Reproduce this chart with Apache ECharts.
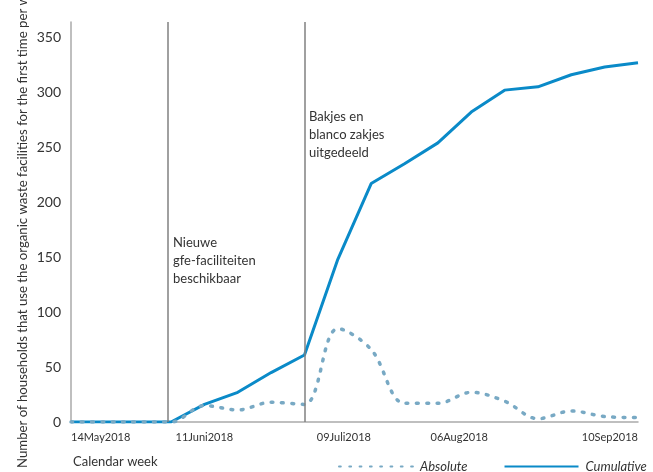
<!DOCTYPE html>
<html>
<head>
<meta charset="utf-8">
<script src="https://cdn.jsdelivr.net/npm/echarts@6/dist/echarts.min.js"></script>
<style>html,body{margin:0;padding:0;background:#fff}#c{width:653px;height:472px}</style>
</head>
<body>
<div id="c"></div>
<script>
const weeks = ['14May2018','21May2018','28May2018','04Jun2018','11Juni2018','18Jun2018','25Jun2018','02Jul2018','09Juli2018','16Jul2018','23Jul2018','30Jul2018','06Aug2018','13Aug2018','20Aug2018','27Aug2018','03Sep2018','10Sep2018'];
const shownWeekLabels = ['14May2018','11Juni2018','09Juli2018','06Aug2018','10Sep2018'];
const absoluteValues = [0,0,0,0,15,11,18,16,85,66,17,17,27,19,3,10,5,4];
const cumulativeValues = [0,0,0,0,16,27,45,61,148,217,235,254,282,302,305,316,323,327];
const eventWeeks = [2.91, 7];
const yTitle = 'Number of households that use the organic waste facilities for the first time per week';
const FONT = 'Lato';

const labelStyles = {
  n: {color: '#333', fontSize: 11, fontFamily: FONT},
  r: {color: '#333', fontSize: 11, fontFamily: FONT, padding: [0, 0, 0, 12]},
  l: {color: '#333', fontSize: 11, fontFamily: FONT, padding: [0, 24, 0, 0]}
};
const labelShift = {'09Juli2018': 'r', '06Aug2018': 'l'};

const chart = echarts.init(document.getElementById('c'));
chart.setOption({
  animation: false,
  textStyle: {fontFamily: FONT},
  grid: {left: 71, right: 15, top: 22, bottom: 50, containLabel: false},
  xAxis: {
    type: 'value', min: 0, max: weeks.length - 1, interval: 1,
    axisLine: {show: true, onZero: false, lineStyle: {color: '#aaaaaa', width: 1.5}},
    axisTick: {show: false},
    splitLine: {show: false},
    axisLabel: {
      color: '#333', fontSize: 11, fontFamily: FONT, margin: 10,
      alignMinLabel: 'left', alignMaxLabel: 'right',
      rich: labelStyles,
      formatter: v => {
        const w = weeks[Math.round(v)];
        if (!shownWeekLabels.includes(w)) return '';
        return '{' + (labelShift[w] || 'n') + '|' + w + '}';
      }
    }
  },
  yAxis: {
    type: 'value', min: 0, max: 364, interval: 50,
    axisLine: {show: true, lineStyle: {color: '#aaaaaa', width: 1.5}},
    axisTick: {show: false},
    splitLine: {show: false},
    axisLabel: {color: '#333', fontSize: 14, fontFamily: FONT, margin: 10, showMaxLabel: false, padding: [0,0,8,0]}
  },
  legend: {
    left: 333, top: 455, width: 330, itemWidth: 74, itemHeight: 10, itemGap: 36,
    itemStyle: {opacity: 0},
    textStyle: {color: '#333', fontSize: 13, fontStyle: 'italic', fontFamily: FONT, padding: [0,0,0,2]},
    data: ['Absolute', 'Cumulative']
  },
  series: [
    {
      name: 'Absolute', type: 'line', smooth: 0.35, symbol: 'none',
      data: absoluteValues.map((v, i) => [i, v]),
      lineStyle: {color: '#78a9c4', width: 3.5, type: [1.8, 8.5], cap: 'round'},
      itemStyle: {color: '#78a9c4'},
      z: 3
    },
    {
      name: 'Cumulative', type: 'line', symbol: 'none',
      data: cumulativeValues.map((v, i) => [i, v]),
      lineStyle: {color: '#0a8ac8', width: 3},
      itemStyle: {color: '#0a8ac8'},
      z: 2,
      markLine: {
        silent: true, symbol: 'none', label: {show: false},
        lineStyle: {color: '#808080', width: 1.5, type: 'solid'},
        data: eventWeeks.map(w => [{coord: [w, 0]}, {coord: [w, 364]}])
      }
    }
  ],
  graphic: [
    {type: 'text', x: 23, y: 468, rotation: Math.PI / 2,
     style: {text: yTitle, fill: '#333', font: '13.2px ' + FONT, textAlign: 'left', textVerticalAlign: 'middle'}},
    {type: 'text', x: 73, y: 462,
     style: {text: 'Calendar week', fill: '#333', font: '13px ' + FONT, textAlign: 'left', textVerticalAlign: 'middle'}},
    {type: 'text', x: 173, y: 234,
     style: {text: 'Nieuwe\ngfe-faciliteiten\nbeschikbaar', fill: '#333', font: '13px ' + FONT, lineHeight: 18, textAlign: 'left', textVerticalAlign: 'top'}},
    {type: 'text', x: 309, y: 108,
     style: {text: 'Bakjes en\nblanco zakjes\nuitgedeeld', fill: '#333', font: '13px ' + FONT, lineHeight: 18, textAlign: 'left', textVerticalAlign: 'top'}}
  ]
});
</script>
</body>
</html>
